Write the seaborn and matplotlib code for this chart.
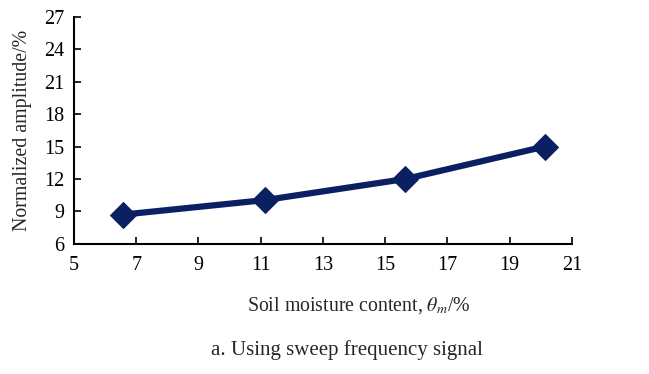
import matplotlib
matplotlib.use("Agg")
import matplotlib.pyplot as plt
import seaborn as sns
import pandas as pd

moisture = [6.56, 11.14, 15.65, 20.13]
amplitude = [8.7, 10.05, 12.0, 15.0]
x_ticks = [5, 7, 9, 11, 13, 15, 17, 19, 21]
y_ticks = [6, 9, 12, 15, 18, 21, 24, 27]

sns.set_style("ticks")
plt.rcParams['font.family'] = ['Liberation Serif', 'DejaVu Serif']
plt.rcParams['mathtext.fontset'] = 'stix'

df = pd.DataFrame({"x": moisture, "y": amplitude})

fig = plt.figure(figsize=(6.49, 3.74), dpi=100)
ax = fig.add_axes([0.114, 0.348, 0.767, 0.607])
sns.lineplot(data=df, x="x", y="y", ax=ax, color="#0b2062", linewidth=4.5,
             marker="D", markersize=13, markeredgecolor="#0b2062")

ax.set_xlim(5, 21)
ax.set_ylim(6, 27)
ax.set_xticks(x_ticks)
ax.set_yticks(y_ticks)
ax.tick_params(direction="in", length=5, width=1.2, labelsize=14.5, colors="black")
ax.tick_params(axis="x", pad=9)
ax.tick_params(axis="y", pad=7)
for s in ["top", "right"]:
    ax.spines[s].set_visible(False)
for s in ["left", "bottom"]:
    ax.spines[s].set_linewidth(1.5)
    ax.spines[s].set_color("black")

ax.set_xlabel("")
ax.set_ylabel("Normalized amplitude/%", fontsize=14.3, labelpad=9)
fig.text(0.553, 0.182, r"Soil moisture content, $\theta_m$/%", ha="center", va="center", fontsize=14.3)
fig.text(0.535, 0.063, "a. Using sweep frequency signal", ha="center", va="center", fontsize=15)

fig.savefig("out.png", dpi=100)
